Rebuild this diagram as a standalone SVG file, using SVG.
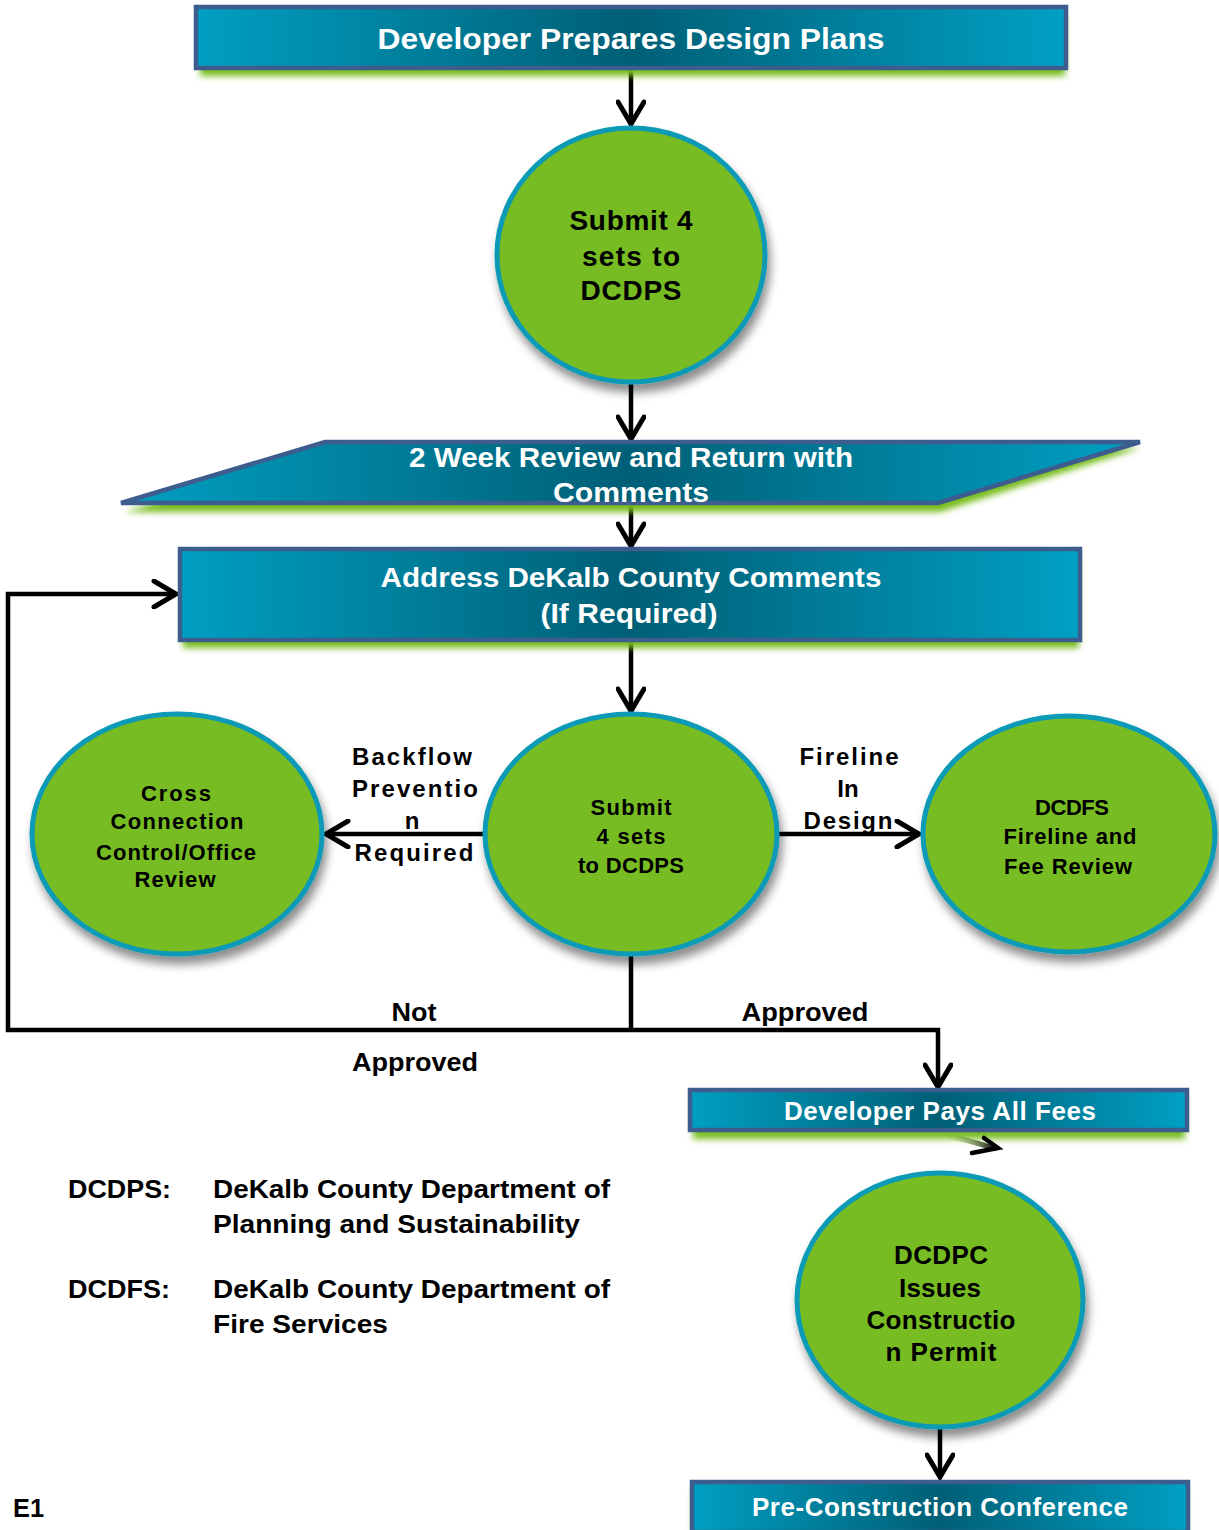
<svg xmlns="http://www.w3.org/2000/svg" width="1219" height="1530" viewBox="0 0 1219 1530">
<defs>
<linearGradient id="teal" x1="0" y1="0" x2="1" y2="0">
<stop offset="0" stop-color="#009fc2"/>
<stop offset="0.5" stop-color="#005f76"/>
<stop offset="1" stop-color="#00a0c4"/>
</linearGradient>
<linearGradient id="tailg" x1="0" y1="0" x2="1" y2="0">
<stop offset="0" stop-color="#77bc1f" stop-opacity="0"/>
<stop offset="1" stop-color="#000"/>
</linearGradient>
<filter id="glow" x="-5%" y="-30%" width="110%" height="160%"><feGaussianBlur stdDeviation="3"/></filter>
<filter id="shadow" x="-10%" y="-10%" width="125%" height="130%"><feDropShadow dx="3" dy="8" stdDeviation="5" flood-color="#000" flood-opacity="0.45"/></filter>
<marker id="arr" markerUnits="userSpaceOnUse" markerWidth="30" markerHeight="30" viewBox="-26 -15 30 30" refX="0" refY="0" orient="auto">
<path d="M-22,-13 L0,0 L-22,13" fill="none" stroke="#000" stroke-width="5" stroke-linecap="round" stroke-linejoin="miter"/>
</marker>
</defs>
<style>
.box{fill:url(#teal);stroke:#3d5d8e;stroke-width:4.5}
.glowg{fill:#77bc1f;filter:url(#glow)}
.node{fill:#77bc21;stroke:#0a9ab6;stroke-width:5;filter:url(#shadow)}
.wt{font-family:"Liberation Sans",Arial,sans-serif;font-weight:bold;fill:#fff;text-anchor:middle}
.bt{font-family:"Liberation Sans",Arial,sans-serif;font-weight:bold;fill:#000;text-anchor:middle}
.lt{font-family:"Liberation Sans",Arial,sans-serif;font-weight:bold;fill:#000}
.ln{fill:none;stroke:#000;stroke-width:4.5}
</style>

<g id="connectors">
<line class="ln" x1="631" y1="68" x2="631" y2="124" marker-end="url(#arr)"/>
<line class="ln" x1="631" y1="383" x2="631" y2="439" marker-end="url(#arr)"/>
<line class="ln" x1="631" y1="503" x2="631" y2="546" marker-end="url(#arr)"/>
<line class="ln" x1="631" y1="640" x2="631" y2="711" marker-end="url(#arr)"/>
<line class="ln" x1="484" y1="834" x2="326" y2="834" marker-end="url(#arr)"/>
<line class="ln" x1="778" y1="834" x2="919" y2="834" marker-end="url(#arr)"/>
<polyline class="ln" points="631,955 631,1030"/>
<polyline class="ln" points="631,1030 8,1030 8,594 176,594" marker-end="url(#arr)"/>
<polyline class="ln" points="631,1030 938,1030 938,1087" marker-end="url(#arr)"/>
<line class="ln" x1="940" y1="1428" x2="940" y2="1477" marker-end="url(#arr)"/>
</g>

<g id="n-design">
<rect class="glowg" x="200" y="14" width="865" height="62"/>
<rect class="box" x="196" y="7" width="870" height="61"/>
<text class="wt" x="631" y="49" font-size="30" textLength="507" lengthAdjust="spacingAndGlyphs">Developer Prepares Design Plans</text>
</g>

<g id="n-submit1">
<ellipse class="node" cx="631" cy="255" rx="134" ry="127"/>
<text class="bt" font-size="28"><tspan x="631" y="230" textLength="123">Submit 4</tspan><tspan x="631" y="266" textLength="98">sets to</tspan><tspan x="631" y="300" textLength="101">DCDPS</tspan></text>
</g>

<g id="n-review">
<polygon class="glowg" points="328,448 1140,448 940,512 125,512"/>
<polygon class="box" points="325,442 1140,442 938,503 121,503"/>
<text class="wt" font-size="28"><tspan x="631" y="467" textLength="444" lengthAdjust="spacingAndGlyphs">2 Week Review and Return with</tspan><tspan x="631" y="502" textLength="156" lengthAdjust="spacingAndGlyphs">Comments</tspan></text>
</g>

<g id="n-address">
<rect class="glowg" x="183" y="556" width="896" height="92"/>
<rect class="box" x="180" y="549" width="900" height="91"/>
<text class="wt" font-size="28"><tspan x="631" y="587" textLength="501" lengthAdjust="spacingAndGlyphs">Address DeKalb County Comments</tspan><tspan x="629" y="623" textLength="177" lengthAdjust="spacingAndGlyphs">(If Required)</tspan></text>
</g>

<g id="n-submit2">
<ellipse class="node" cx="631" cy="834" rx="146" ry="120"/>
<text class="bt" font-size="22"><tspan x="631" y="815" textLength="81">Submit</tspan><tspan x="631" y="844" textLength="69">4 sets</tspan><tspan x="631" y="873" textLength="106">to DCDPS</tspan></text>
</g>

<g id="n-cross">
<ellipse class="node" cx="177" cy="834" rx="145" ry="120"/>
<text class="bt" font-size="22"><tspan x="176" y="801" textLength="70">Cross</tspan><tspan x="177" y="829" textLength="133">Connection</tspan><tspan x="176" y="860" textLength="160">Control/Office</tspan><tspan x="175" y="887" textLength="81">Review</tspan></text>
</g>

<g id="n-dcdfs">
<ellipse class="node" cx="1069" cy="834" rx="146" ry="118"/>
<text class="bt" font-size="22"><tspan x="1072" y="815" textLength="74">DCDFS</tspan><tspan x="1070" y="844" textLength="133">Fireline and</tspan><tspan x="1068" y="874" textLength="128">Fee Review</tspan></text>
</g>

<g id="labels">
<text class="bt" font-size="24"><tspan x="412" y="765" textLength="120">Backflow</tspan><tspan x="415" y="797" textLength="126">Preventio</tspan><tspan x="412" y="829">n</tspan><tspan x="414" y="861" textLength="119">Required</tspan></text>
<text class="bt" font-size="24"><tspan x="849" y="765" textLength="99">Fireline</tspan><tspan x="848" y="797">In</tspan><tspan x="848" y="829" textLength="89">Design</tspan></text>
<text class="bt" font-size="25" x="414" y="1021" textLength="45" lengthAdjust="spacingAndGlyphs">Not</text>
<text class="bt" font-size="25" x="415" y="1071" textLength="126" lengthAdjust="spacingAndGlyphs">Approved</text>
<text class="bt" font-size="25" x="805" y="1021" textLength="127" lengthAdjust="spacingAndGlyphs">Approved</text>
</g>

<g id="n-fees">
<rect class="glowg" x="693" y="1097" width="492" height="42"/>
<rect class="box" x="690" y="1090" width="497" height="40"/>
<text class="wt" x="940" y="1120" font-size="26" textLength="312">Developer Pays All Fees</text>
<path d="M945,1135 Q975,1142 996,1149" fill="none" stroke="url(#tailg)" stroke-width="5"/>
<path d="M972,1153 L998,1148 L984,1138" fill="none" stroke="#000" stroke-width="4.5" stroke-linecap="round"/>
</g>

<g id="n-dcdpc">
<ellipse class="node" cx="940" cy="1300" rx="143" ry="127"/>
<text class="bt" font-size="26"><tspan x="941" y="1264" textLength="94">DCDPC</tspan><tspan x="940" y="1297" textLength="82">Issues</tspan><tspan x="941" y="1329" textLength="149">Constructio</tspan><tspan x="941" y="1361" textLength="111">n Permit</tspan></text>
</g>

<g id="n-precon">
<rect class="glowg" x="693" y="1489" width="493" height="45"/>
<rect class="box" x="692" y="1482" width="496" height="50"/>
<text class="wt" x="940" y="1516" font-size="26" textLength="376">Pre-Construction Conference</text>
</g>

<g id="legend">
<text class="lt" font-size="25" x="68" y="1198" textLength="103" lengthAdjust="spacingAndGlyphs">DCDPS:</text>
<text class="lt" font-size="25" x="213" y="1198" textLength="397" lengthAdjust="spacingAndGlyphs">DeKalb County  Department of</text>
<text class="lt" font-size="25" x="213" y="1233" textLength="367" lengthAdjust="spacingAndGlyphs">Planning and Sustainability</text>
<text class="lt" font-size="25" x="68" y="1298" textLength="102" lengthAdjust="spacingAndGlyphs">DCDFS:</text>
<text class="lt" font-size="25" x="213" y="1298" textLength="397" lengthAdjust="spacingAndGlyphs">DeKalb County  Department of</text>
<text class="lt" font-size="25" x="213" y="1333" textLength="175" lengthAdjust="spacingAndGlyphs">Fire Services</text>
<text class="lt" font-size="25" x="13" y="1517" textLength="31" lengthAdjust="spacingAndGlyphs">E1</text>
</g>
</svg>
